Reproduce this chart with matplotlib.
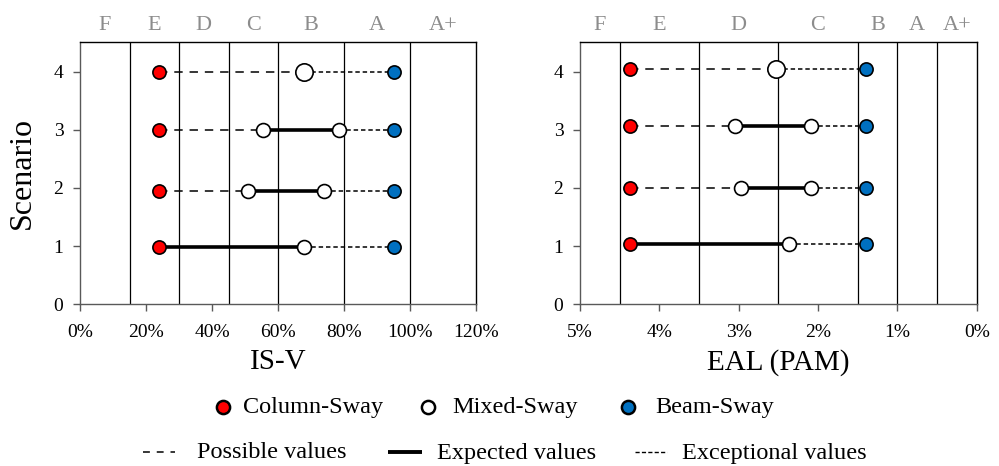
import matplotlib
matplotlib.use("Agg")
import matplotlib.pyplot as plt
from matplotlib.lines import Line2D
from matplotlib.ticker import FuncFormatter

plt.rcParams['font.family'] = ['Liberation Serif', 'DejaVu Serif']

# ---------------- data ----------------
scenarios = [1, 2, 3, 4]

# IS-V panel (percent)
isv_y = [0.98, 1.94, 3.0, 4.0]
isv_column = [24, 24, 24, 24]
isv_beam = [95, 95, 95, 95]
isv_expected_start = [24, 51, 55.5, 68]   # end of "possible" segment
isv_expected_end = [68, 74, 78.5, 68]     # start of "exceptional" segment
isv_mixed = [[68], [51, 74], [55.5, 78.5], [68]]
isv_grade_bounds = [15, 30, 45, 60, 80, 100]
isv_grade_labels = ['F', 'E', 'D', 'C', 'B', 'A', 'A+']
isv_grade_centers = [7.5, 22.5, 37.5, 52.5, 70, 90, 110]
isv_xticks = [0, 20, 40, 60, 80, 100, 120]

# EAL panel (percent)
eal_y = [1.03, 2.0, 3.06, 4.04]
eal_column = [4.37, 4.37, 4.37, 4.37]
eal_beam = [1.39, 1.39, 1.39, 1.39]
eal_expected_start = [4.37, 2.97, 3.05, 2.53]
eal_expected_end = [2.36, 2.09, 2.09, 2.53]
eal_mixed = [[2.36], [2.97, 2.09], [3.05, 2.09], [2.53]]
eal_grade_bounds = [4.5, 3.5, 2.5, 1.5, 1.0, 0.5]
eal_grade_labels = ['F', 'E', 'D', 'C', 'B', 'A', 'A+']
eal_grade_centers = [4.75, 4.0, 3.0, 2.0, 1.25, 0.75, 0.25]
eal_xticks = [5, 4, 3, 2, 1, 0]

big_mixed_scenario = 4

legend_markers = ['Column-Sway', 'Mixed-Sway', 'Beam-Sway']
legend_lines = ['Possible values', 'Expected values', 'Exceptional values']

RED = '#FF0000'
BLUE = '#0070C0'
GRAY_TXT = '#8C8C8C'
POSSIBLE_DASH = (0, (5.5, 4.5))
EXCEPT_DASH = (0, (2.9, 1.9))

W, H = 999, 466
fig = plt.figure(figsize=(W / 100, H / 100), dpi=100)
axL = fig.add_axes([0.0801, 0.347, 0.3964, 0.562])
axR = fig.add_axes([0.5806, 0.347, 0.3971, 0.562])


def draw_panel(ax, y, col, beam, es, ee, mixed, bounds, glabels, gcenters,
               xlim, xticks, fmt, xlabel):
    ax.set_xlim(*xlim)
    ax.set_ylim(0, 4.5)
    for b in bounds:
        ax.axvline(b, color='black', lw=0.9, zorder=1)
    for i, s in enumerate(scenarios):
        yy = y[i]
        if es[i] != col[i]:
            ax.plot([col[i], es[i]], [yy, yy], color='black', lw=1.1,
                    linestyle=POSSIBLE_DASH, zorder=2)
        if ee[i] != es[i]:
            ax.plot([es[i], ee[i]], [yy, yy], color='black', lw=2.6,
                    solid_capstyle='butt', zorder=2)
        ax.plot([ee[i], beam[i]], [yy, yy], color='black', lw=1.1,
                linestyle=EXCEPT_DASH, zorder=2)
        ax.plot([col[i]], [yy], 'o', ms=9.5, mfc=RED, mec='black', mew=1.2, zorder=4)
        ax.plot([beam[i]], [yy], 'o', ms=9.5, mfc=BLUE, mec='black', mew=1.2, zorder=4)
        ms = 12.5 if s == big_mixed_scenario else 10.0
        ax.plot(mixed[i], [yy] * len(mixed[i]), 'o', ms=ms, mfc='white',
                mec='black', mew=1.2, zorder=4)
    for lab, c in zip(glabels, gcenters):
        ax.text(c, 1.03, lab, transform=ax.get_xaxis_transform(),
                ha='center', va='bottom', fontsize=16, color=GRAY_TXT)
    ax.set_xticks(xticks)
    ax.xaxis.set_major_formatter(FuncFormatter(fmt))
    ax.set_yticks([0, 1, 2, 3, 4])
    ax.tick_params(axis='both', direction='out', length=5, width=1,
                   color='#595959', labelsize=14)
    ax.tick_params(axis='x', pad=9)
    ax.tick_params(axis='y', pad=7)
    for sp in ax.spines.values():
        sp.set_color('black')
        sp.set_linewidth(1.0)
    ax.spines['left'].set_color('#595959')
    ax.spines['bottom'].set_color('#595959')
    ax.set_xlabel(xlabel, fontsize=21, labelpad=6)


draw_panel(axL, isv_y, isv_column, isv_beam, isv_expected_start, isv_expected_end,
           isv_mixed, isv_grade_bounds, isv_grade_labels, isv_grade_centers,
           (0, 120), isv_xticks, lambda v, p: f"{v:.0f}%", 'IS-V')
draw_panel(axR, eal_y, eal_column, eal_beam, eal_expected_start, eal_expected_end,
           eal_mixed, eal_grade_bounds, eal_grade_labels, eal_grade_centers,
           (5, 0), eal_xticks, lambda v, p: f"{v:.0f}%", 'EAL (PAM)')
axL.set_ylabel('Scenario', fontsize=23, labelpad=12)


# ---------------- legend (placed manually, figure pixel positions) ----------------
def fx(px):
    return px / W


def fy(py):
    return 1 - py / H


row1_y = 407
marker_handles = [(223, RED), (428, 'white'), (628, BLUE)]
marker_text_x = [243, 452, 655]
for (mx, colr), tx, lab in zip(marker_handles, marker_text_x, legend_markers):
    fig.add_artist(Line2D([fx(mx)], [fy(row1_y)], marker='o', ms=9.5, mfc=colr,
                          mec='black', mew=1.8, ls='none',
                          transform=fig.transFigure))
    fig.text(fx(tx), fy(row1_y + 1), lab, ha='left', va='center', fontsize=17.5)

row2_y = 452
line_handles = [((143, 175), dict(lw=1.1, ls=(0, (4.5, 4.5)))),
                ((388, 422), dict(lw=2.8)),
                ((635, 667), dict(lw=1.0, ls=(0, (3.0, 1.6))))]
line_text_x = [197, 437, 682]
for ((x0, x1), st), tx, lab in zip(line_handles, line_text_x, legend_lines):
    fig.add_artist(Line2D([fx(x0), fx(x1)], [fy(row2_y), fy(row2_y)], color='black',
                          solid_capstyle='butt', transform=fig.transFigure, **st))
    fig.text(fx(tx), fy(row2_y + 1), lab, ha='left', va='center', fontsize=17.5)

fig.savefig('out.png', dpi=100)
